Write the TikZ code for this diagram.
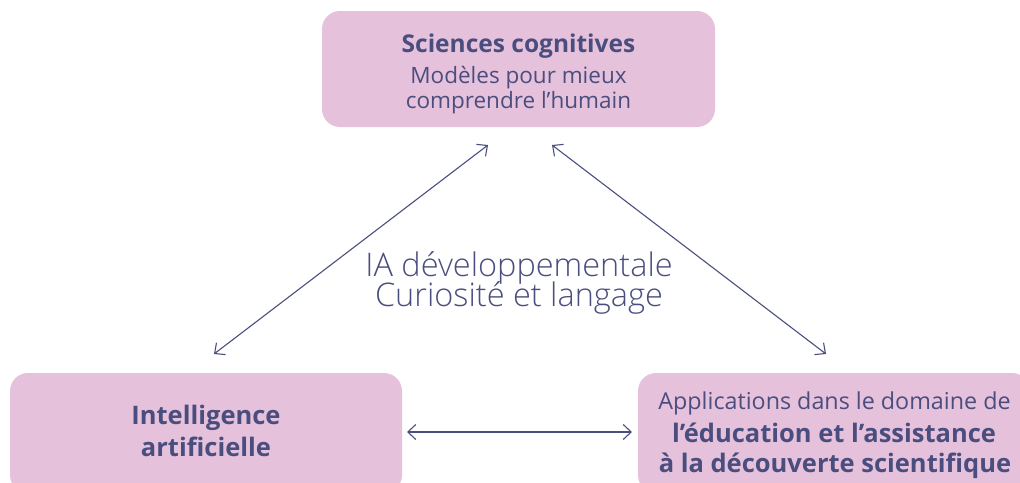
\documentclass[tikz,border=0pt]{standalone}
\usepackage{fontspec}
\setmainfont[Ligatures=NoCommon]{Open Sans}
\newfontfamily\lightfont[Ligatures=NoCommon]{Open Sans Light}
\usetikzlibrary{arrows.meta}
\definecolor{boxfill}{HTML}{E6C1DC}
\definecolor{ink}{HTML}{4A4E7E}
\tikzset{
  pbox/.style={fill=boxfill, draw=none, rounded corners=18pt, inner sep=0pt},
  txt/.style={text=ink, anchor=base, inner sep=0pt},
  link/.style={draw=ink, line width=1.1pt, {Straight Barb[length=8pt,width=15pt]}-{Straight Barb[length=8pt,width=15pt]}},
}
\begin{document}
\begin{tikzpicture}[x=1pt,y=-1pt]
\useasboundingbox (0,0) rectangle (1020,482);
\clip (0,0) rectangle (1020,482);
% boxes
\node[pbox, minimum width=393pt, minimum height=116pt] (sc) at (518.5,69) {};
\node[pbox, minimum width=392pt, minimum height=120pt] (ia) at (206,433) {};
\node[pbox, minimum width=392pt, minimum height=120pt] (ap) at (834,433) {};
% top box text
\node[txt, font=\bfseries\fontsize{24.5}{28}\selectfont] (sc1) at (518.5,52) {Sciences cognitives};
\node[txt, font=\fontsize{22.5}{28}\selectfont] (sc2) at (518.5,83.5) {Modèles pour mieux};
\node[txt, font=\fontsize{22.5}{28}\selectfont] (sc3) at (518.5,108.5) {comprendre l’humain};
% left box text
\node[txt, font=\bfseries\fontsize{25.5}{30}\selectfont] (ia1) at (206,424) {Intelligence};
\node[txt, font=\bfseries\fontsize{25.5}{30}\selectfont] (ia2) at (206,456) {artificielle};
% right box text
\node[txt, font=\fontsize{23.3}{30}\selectfont] (ap1) at (834.5,409.5) {Applications dans le domaine de};
\node[txt, font=\bfseries\fontsize{25.5}{30}\selectfont] (ap2) at (834,442) {l’éducation et l’assistance};
\node[txt, font=\bfseries\fontsize{25.5}{30}\selectfont] (ap3) at (835,472) {à la découverte scientifique};
% middle text
\node[txt, font=\lightfont\fontsize{32.5}{34}\selectfont] (mid1) at (519,276) {IA développementale};
\node[txt, font=\lightfont\fontsize{32.5}{34}\selectfont] (mid2) at (519,306) {Curiosité et langage};
% connectors
\coordinate (s1) at (488,145);
\coordinate (i1) at (214,354);
\coordinate (s2) at (552,145);
\coordinate (a2) at (826,354);
\coordinate (i3) at (407,432);
\coordinate (a3) at (632,432);
\draw[link] (s1) -- (i1);
\draw[link] (s2) -- (a2);
\draw[link] (i3) -- (a3);
\end{tikzpicture}
\end{document}
